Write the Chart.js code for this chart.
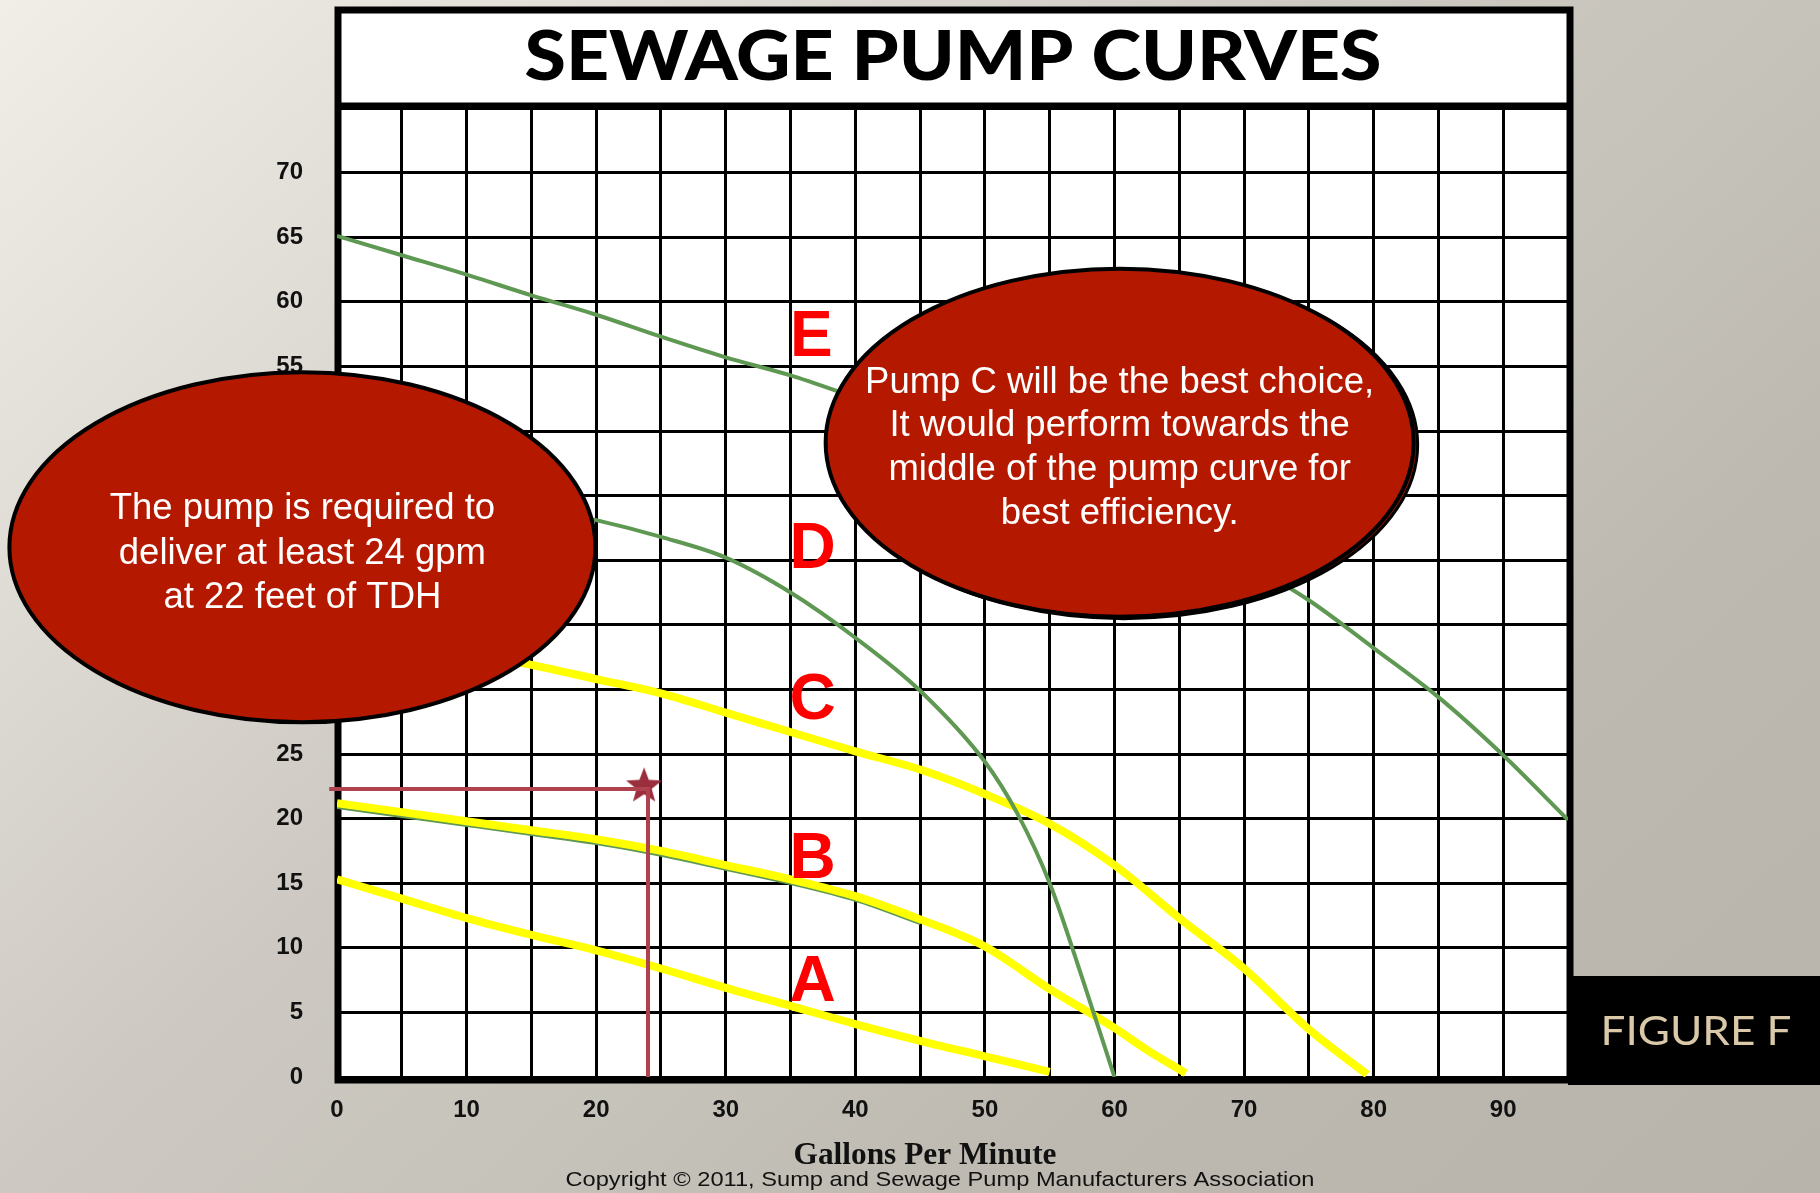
<!DOCTYPE html>
<html>
<head>
<meta charset="utf-8">
<script src="https://cdn.jsdelivr.net/npm/chart.js@4.4.1/dist/chart.umd.min.js"></script>
<style>
  html, body { margin: 0; padding: 0; overflow: hidden; }
  #chart { display: block; }
</style>
</head>
<body>
<canvas id="chart" width="1820" height="1193"></canvas>
<script>
// pump curves: gallons per minute vs feet of head
const gpmA = [0, 5, 10, 15, 20, 25, 30, 35, 40, 45, 50, 55];
const headA = [15.3, 13.8, 12.3, 11.0, 9.8, 8.4, 6.9, 5.5, 4.1, 2.8, 1.6, 0.4];

const gpmB = [0, 5, 10, 15, 20, 25, 30, 35, 40, 45, 50, 55, 60, 62.5, 65.5];
const headB = [21.2, 20.5, 19.8, 19.1, 18.4, 17.5, 16.4, 15.3, 14.0, 12.2, 10.1, 6.8, 3.8, 2.1, 0.3];

// thin green trace just under curve B
const gpmBTrace = [0, 5, 10, 15, 20, 25, 30, 35, 40, 45];
const headBTrace = [20.85, 20.15, 19.45, 18.75, 18.05, 17.15, 16.05, 14.95, 13.65, 11.85];

const gpmC = [0, 5, 10, 15, 20, 25, 30, 35, 40, 45, 50, 55, 60, 65, 70, 75, 79.5];
const headC = [34.6, 33.8, 32.9, 31.9, 30.8, 29.7, 28.2, 26.7, 25.2, 23.8, 21.9, 19.6, 16.4, 12.3, 8.4, 3.7, 0.2];

const gpmD = [0, 5, 10, 15, 20, 25, 30, 35, 40, 45, 50, 52.5, 55, 57.5, 60];
const headD = [46.0, 45.5, 44.9, 44.1, 43.1, 41.8, 40.2, 37.5, 34.0, 29.9, 24.4, 20.4, 15.0, 7.7, 0];

const gpmE = [0, 5, 10, 15, 20, 25, 30, 35, 40, 45, 50, 55, 60, 65, 70, 75, 80, 85, 90, 95];
const headE = [65.1, 63.6, 62.1, 60.5, 59.0, 57.3, 55.7, 54.3, 52.6, 50.9, 49.1, 47.1, 44.9, 42.5, 39.9, 36.9, 33.2, 29.4, 24.9, 19.9];

// required duty point: 24 gpm at 22 ft
const gpmCross = [-0.6, 24, 24];
const headCross = [22.3, 22.3, 0];
const gpmStar = [23.7];
const headStar = [22.5];

const curveNames = ['A', 'B', 'C', 'D', 'E'];
const xTicks = [0, 10, 20, 30, 40, 50, 60, 70, 80, 90];
const yTicks = [0, 5, 10, 15, 20, 25, 30, 35, 40, 45, 50, 55, 60, 65, 70];

const chartTitle = 'SEWAGE PUMP CURVES';
const xTitle = 'Gallons Per Minute';
const copyright = 'Copyright \u00A9 2011, Sump and Sewage Pump Manufacturers Association';
const figureLabel = 'FIGURE F';
const leftNote = ['The pump is required to', 'deliver at least 24 gpm', 'at 22 feet of TDH'];
const rightNote = ['Pump C will be the best choice,', 'It would perform towards the', 'middle of the pump curve for', 'best efficiency.'];

const toPoints = (xs, ys) => xs.map((x, i) => ({ x: x, y: ys[i] }));

const YELLOW = '#ffff00';
const GREEN = '#5f9852';
const tickFont = { family: 'Liberation Sans, Arial, sans-serif', size: 24, weight: 'bold' };

function makeStar(r, color) {
    const c = document.createElement('canvas');
    c.width = c.height = r * 2 + 2;
    const g = c.getContext('2d');
    g.beginPath();
    for (let i = 0; i < 10; i++) {
        const rad = i % 2 ? r * 0.42 : r;
        const a = -Math.PI / 2 + i * Math.PI / 5;
        g.lineTo(c.width / 2 + rad * Math.cos(a), c.height / 2 + rad * Math.sin(a));
    }
    g.closePath();
    g.fillStyle = color;
    g.fill();
    return c;
}

function curve(xs, ys, color, width) {
    return {
        data: toPoints(xs, ys),
        borderColor: color,
        borderWidth: width,
        pointRadius: 0,
        fill: false,
        cubicInterpolationMode: 'monotone',
        borderJoinStyle: 'round'
    };
}

// stretch text horizontally so it covers the same width as in the figure
function fitText(ctx, text, cx, baseline, width, font, color) {
    ctx.save();
    ctx.font = font;
    ctx.fillStyle = color;
    ctx.textAlign = 'center';
    ctx.textBaseline = 'alphabetic';
    const w = ctx.measureText(text).width;
    ctx.translate(cx, baseline);
    ctx.scale(width / w, 1);
    ctx.fillText(text, 0, 0);
    ctx.restore();
}

function ellipse(ctx, cx, cy, rx, ry, fill, stroke, lw) {
    ctx.beginPath();
    ctx.ellipse(cx, cy, rx, ry, 0, 0, Math.PI * 2);
    ctx.fillStyle = fill;
    ctx.fill();
    ctx.lineWidth = lw;
    ctx.strokeStyle = stroke;
    ctx.stroke();
}

function noteLines(ctx, lines, cx, firstY, step) {
    ctx.save();
    ctx.font = '36.5px "Liberation Sans", Arial, sans-serif';
    ctx.fillStyle = '#ffffff';
    ctx.textAlign = 'center';
    ctx.textBaseline = 'middle';
    lines.forEach((t, i) => ctx.fillText(t, cx, firstY + i * step));
    ctx.restore();
}

// letters sit next to each curve, in gpm / ft
const letterSpots = { A: [36.7, 7.4], B: [36.7, 16.9], C: [36.7, 29.2], D: [36.7, 40.9], E: [36.6, 57.3] };

const decoPlugin = {
    id: 'deco',
    beforeDraw(chart) {
        const ctx = chart.ctx;
        const ca = chart.chartArea;
        ctx.save();
        const bg = ctx.createLinearGradient(0, 0, 1417, 1559);
        bg.addColorStop(0, '#f1eee8');
        bg.addColorStop(0.42, '#cdc9c2');
        bg.addColorStop(0.58, '#c6c3bb');
        bg.addColorStop(0.74, '#bdb9b0');
        bg.addColorStop(1, '#b8b4ab');
        ctx.fillStyle = bg;
        ctx.fillRect(0, 0, chart.width, chart.height);

        // white sheet behind the grid
        ctx.fillStyle = '#ffffff';
        ctx.fillRect(ca.left, 10, ca.right - ca.left, ca.bottom - 7);

        // FIGURE F tab
        ctx.fillStyle = '#000000';
        ctx.fillRect(ca.right, 976, chart.width - ca.right, 109);
        fitText(ctx, figureLabel, 1696, 1045, 191, '40px Lato, "Open Sans", sans-serif', '#d9c9a8');

        fitText(ctx, chartTitle, 953, 80, 857, '900 69px Lato, "Open Sans", sans-serif', '#000000');
        fitText(ctx, xTitle, 925, 1164, 263, 'bold 31px "Liberation Serif", "Times New Roman", serif', '#111111');
        fitText(ctx, copyright, 940, 1186, 749, '21px "Liberation Sans", Arial, sans-serif', '#111111');
        ctx.restore();
    },
    beforeDatasetsDraw(chart) {
        const ctx = chart.ctx;
        const ca = chart.chartArea;
        ctx.save();
        ctx.strokeStyle = '#000000';
        ctx.lineWidth = 7;
        ctx.strokeRect(ca.left + 1, 10, ca.right - ca.left + 1, ca.bottom - 7);
        ctx.lineWidth = 5;
        ctx.beginPath();
        ctx.moveTo(ca.left, ca.top - 3);
        ctx.lineTo(ca.right, ca.top - 3);
        ctx.stroke();
        ctx.restore();
    },
    afterDatasetsDraw(chart) {
        const ctx = chart.ctx;
        const xs = chart.scales.x;
        const ys = chart.scales.y;
        ctx.save();

        // curve letters
        ctx.font = 'bold 64px "Liberation Sans", Arial, sans-serif';
        ctx.fillStyle = '#ff0000';
        ctx.textAlign = 'center';
        ctx.textBaseline = 'middle';
        curveNames.forEach(n => {
            const [gx, hy] = letterSpots[n];
            ctx.fillText(n, xs.getPixelForValue(gx), ys.getPixelForValue(hy) + 2);
        });

        // left callout
        const lx = xs.getPixelForValue(-2.67), ly = ys.getPixelForValue(41.0);
        ellipse(ctx, lx, ly, 293, 175, '#b41900', '#000000', 4);
        noteLines(ctx, leftNote, lx, ly - 38, 44.5);

        // right callout with a small drop shadow
        const rx = xs.getPixelForValue(60.4), ry = ys.getPixelForValue(49.1);
        ellipse(ctx, rx + 4, ry + 2, 294, 174, '#8f1400', '#000000', 3);
        ellipse(ctx, rx, ry, 294, 174, '#b41900', '#000000', 4);
        noteLines(ctx, rightNote, rx, ry - 60, 43.7);
        ctx.restore();
    }
};

const starImg = makeStar(19, '#9a2e3d');

// earlier datasets are painted on top
const datasets = [
    Object.assign(curve(gpmCross, headCross, '#b0414f', 4), { clip: false, cubicInterpolationMode: 'default', tension: 0, borderJoinStyle: 'miter' }),
    { data: toPoints(gpmStar, headStar), showLine: false, pointStyle: starImg, pointRadius: 19 },
    curve(gpmD, headD, GREEN, 4),
    curve(gpmE, headE, GREEN, 4),
    curve(gpmA, headA, YELLOW, 8),
    curve(gpmB, headB, YELLOW, 8),
    curve(gpmC, headC, YELLOW, 8),
    curve(gpmBTrace, headBTrace, GREEN, 2.5)
];

const ctx = document.getElementById('chart').getContext('2d');

new Chart(ctx, {
    type: 'line',
    data: { datasets: datasets },
    options: {
        responsive: false,
        animation: false,
        devicePixelRatio: 1,
        layout: { padding: { top: 108, right: 252, bottom: 0, left: 0 } },
        plugins: {
            legend: { display: false },
            tooltip: { enabled: false }
        },
        scales: {
            x: {
                type: 'linear',
                min: 0,
                max: 95,
                ticks: {
                    stepSize: 5,
                    autoSkip: false,
                    maxRotation: 0,
                    padding: 19,
                    color: '#111111',
                    font: tickFont,
                    callback: v => xTicks.includes(v) ? String(v) : ''
                },
                grid: { color: '#000000', lineWidth: 3, drawTicks: false },
                border: { display: false },
                afterFit: s => { s.height = 116; }
            },
            y: {
                min: 0,
                max: 75,
                ticks: {
                    stepSize: 5,
                    autoSkip: false,
                    padding: 34,
                    color: '#111111',
                    font: tickFont,
                    callback: v => yTicks.includes(v) ? String(v) : ''
                },
                grid: { color: '#000000', lineWidth: 3, drawTicks: false },
                border: { display: false },
                afterFit: s => { s.width = 337; }
            }
        }
    },
    plugins: [decoPlugin]
});
</script>
</body>
</html>
